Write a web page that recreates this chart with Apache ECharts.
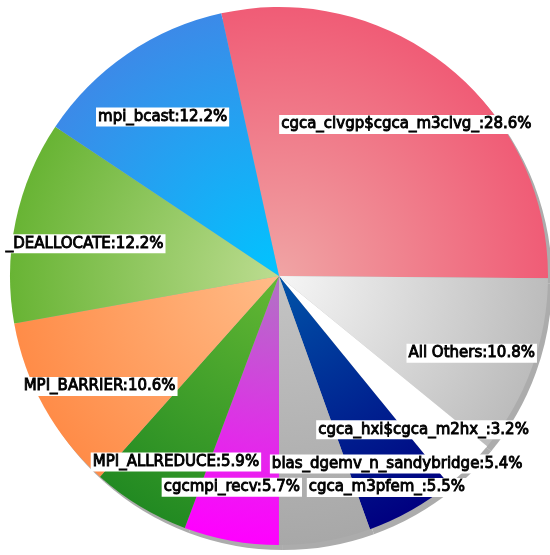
<!DOCTYPE html>
<html>
<head>
<meta charset="utf-8">
<script src="https://cdn.jsdelivr.net/npm/echarts@6/dist/echarts.min.js"></script>
<style>
  html, body { margin: 0; padding: 0; background: #fff; }
  #chart { width: 550px; height: 555px; }
</style>
</head>
<body>
<div id="chart"></div>
<script>
  const names = ['cgca_clvgp$cgca_m3clvg_', 'All Others', 'cgca_hxi$cgca_m2hx_', 'blas_dgemv_n_sandybridge',
    'cgca_m3pfem_', 'cgcmpi_recv', 'MPI_ALLREDUCE', 'MPI_BARRIER', '_DEALLOCATE', 'mpi_bcast']
  const values = [28.6, 10.8, 3.2, 5.4, 5.5, 5.7, 5.9, 10.6, 12.2, 12.2]

  // gradient colours, centre of the pie -> rim
  const innerColors = ['#f0a4a4', '#f6f6f6', '#ffffff', '#0054a8', '#c4c4c4', '#b074c4', '#64b834', '#ffbc88', '#bcdc90', '#00c4ff']
  const outerColors = ['#f05c76', '#bcbcbc', '#ffffff', '#000080', '#a8a8a8', '#ff00ff', '#228a22', '#ff8c48', '#68b434', '#3c8ae8']

  // small nudges so the labels sit where the reference puts them
  const labelShift = [[3, 2], [7, 10], [5, 14], [21, 16], [74, 17], [-12, 17], [-1, 17], [-7, 14], [-1, 8], [-5, 4]]

  const cx = 279
  const cy = 276
  const R = 269

  const sliceData = names.map((name, i) => ({
    name,
    value: values[i],
    itemStyle: {
      color: {
        type: 'radial',
        x: cx,
        y: cy,
        r: R,
        global: true,
        colorStops: [
          { offset: 0, color: innerColors[i] },
          { offset: 1, color: outerColors[i] },
        ],
      },
    },
  }))

  const chart = echarts.init(document.getElementById('chart'), null, { renderer: 'canvas' })
  chart.setOption({
    animation: false,
    backgroundColor: '#ffffff',
    series: [
      // drop shadow under the pie
      {
        type: 'pie',
        z: 1,
        silent: true,
        center: [cx + 4, cy + 5],
        radius: R,
        startAngle: 102.4,
        label: { show: false },
        labelLine: { show: false },
        itemStyle: { color: '#acacac', borderWidth: 0 },
        data: values.map((v, i) => ({ name: names[i], value: v })),
      },
      {
        type: 'pie',
        z: 2,
        center: [cx, cy],
        radius: R,
        startAngle: 102.4,
        label: { show: false },
        labelLine: { show: false },
        itemStyle: { borderWidth: 0 },
        data: sliceData,
      },
      // transparent ring that only carries the labels
      {
        type: 'pie',
        z: 3,
        silent: true,
        center: [cx, cy],
        radius: [120, R],
        startAngle: 102.4,
        avoidLabelOverlap: false,
        itemStyle: { color: 'rgba(0,0,0,0)', borderWidth: 0 },
        labelLine: { show: false },
        label: {
          show: true,
          position: 'inside',
          formatter: '{b}:{c}%',
          fontFamily: 'DejaVu Sans',
          fontSize: 15,
          lineHeight: 17,
          color: '#000',
          textBorderColor: '#000',
          textBorderWidth: 0.9,
          backgroundColor: '#fff',
          padding: [1, 2, 1, 2],
        },
        labelLayout: (params) => {
          const s = labelShift[params.dataIndex]
          return { dx: s[0], dy: s[1], hideOverlap: false }
        },
        data: values.map((v, i) => ({ name: names[i], value: v })),
      },
    ],
  })
</script>
</body>
</html>
